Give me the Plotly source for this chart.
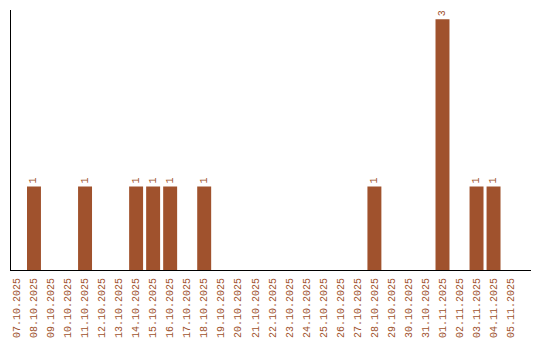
import plotly.graph_objects as go

dates = ["07.10.2025", "08.10.2025", "09.10.2025", "10.10.2025", "11.10.2025",
         "12.10.2025", "13.10.2025", "14.10.2025", "15.10.2025", "16.10.2025",
         "17.10.2025", "18.10.2025", "19.10.2025", "20.10.2025", "21.10.2025",
         "22.10.2025", "23.10.2025", "24.10.2025", "25.10.2025", "26.10.2025",
         "27.10.2025", "28.10.2025", "29.10.2025", "30.10.2025", "31.10.2025",
         "01.11.2025", "02.11.2025", "03.11.2025", "04.11.2025", "05.11.2025"]
counts = [0, 1, 0, 0, 1, 0, 0, 1, 1, 1, 0, 1, 0, 0, 0, 0, 0, 0, 0, 0,
          0, 1, 0, 0, 0, 3, 0, 1, 1, 0]

color = "#A0522D"
font = "Liberation Mono, Courier New, monospace"

labels = [str(v) if v else "" for v in counts]

fig = go.Figure(go.Bar(
    x=dates, y=counts, marker_color=color, marker_line_width=0,
    text=labels, textposition="outside", textangle=-90,
    textfont=dict(family=font, size=10, color=color),
    cliponaxis=False,
))

fig.update_layout(
    width=540, height=340,
    margin=dict(l=11, r=9, t=10, b=70, autoexpand=False),
    paper_bgcolor="white", plot_bgcolor="white",
    bargap=0.18, showlegend=False,
    xaxis=dict(type="category", range=[-0.35, 30.2], showline=True,
               linecolor="black", linewidth=1, ticks="", tickangle=-90,
               tickfont=dict(family=font, size=10, color=color),
               showgrid=False, zeroline=False, automargin=False,
               ticklabelstandoff=3),
    yaxis=dict(range=[0, 3.11], showline=True, linecolor="black", linewidth=1,
               showticklabels=False, ticks="", showgrid=False, zeroline=False,
               automargin=False),
)

fig.write_html("out.html")
